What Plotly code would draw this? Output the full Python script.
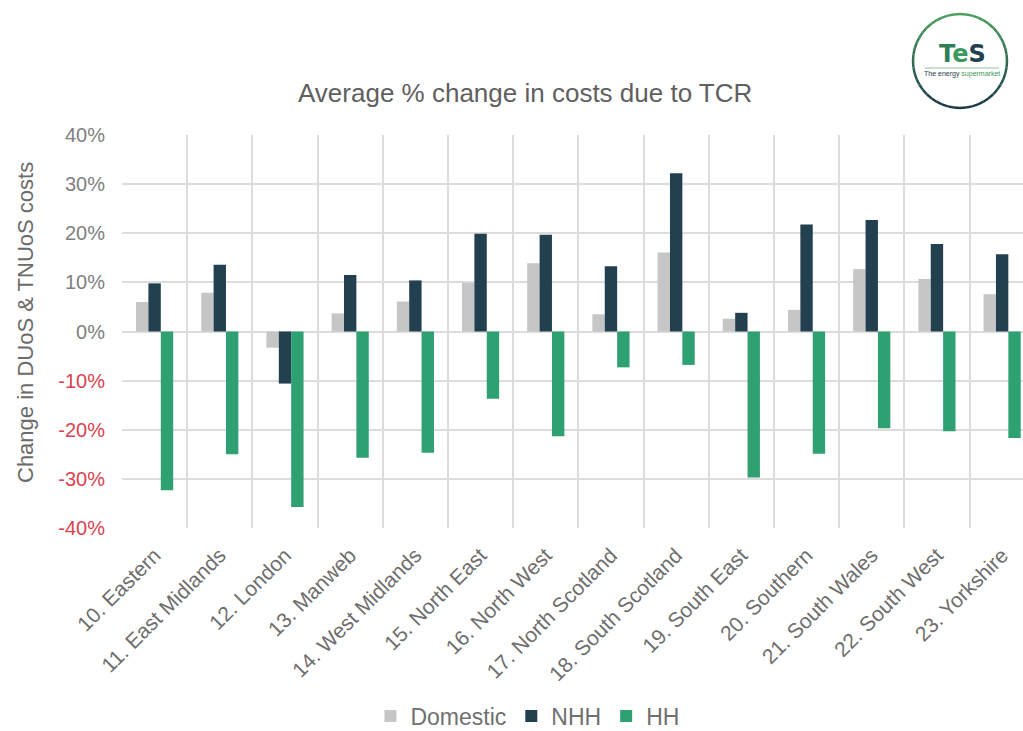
import math
import plotly.graph_objects as go

# Regions (DNO areas) and the average % change per customer class
regions = ["10. Eastern", "11. East Midlands", "12. London", "13. Manweb",
           "14. West Midlands", "15. North East", "16. North West",
           "17. North Scotland", "18. South Scotland", "19. South East",
           "20. Southern", "21. South Wales", "22. South West", "23. Yorkshire"]
domestic = [6.0, 7.9, -3.3, 3.7, 6.1, 9.9, 13.9, 3.5, 16.1, 2.6, 4.4, 12.7, 10.7, 7.6]
nhh = [9.8, 13.6, -10.6, 11.5, 10.4, 19.9, 19.7, 13.3, 32.2, 3.8, 21.8, 22.7, 17.8, 15.7]
hh = [-32.3, -25.0, -35.7, -25.7, -24.7, -13.7, -21.3, -7.3, -6.8, -29.7, -24.9, -19.7, -20.3, -21.7]

y_ticks = [-40, -30, -20, -10, 0, 10, 20, 30, 40]

FONT = "Liberation Sans, Arial, sans-serif"
GREY = "#808080"
RED = "#d9434f"

# plot-area geometry in pixels, used to place the annotations and badge
W, H = 1023, 731
L, R, T, B = 122, 0, 135, 203
PW, PH = W - L - R, H - T - B


def px(x):
    return (x - L) / PW


def py(y):
    return (H - B - y) / PH


fig = go.Figure()
fig.add_trace(go.Bar(name="Domestic", x=regions, y=domestic, marker_color="#c6c6c6"))
fig.add_trace(go.Bar(name="NHH", x=regions, y=nhh, marker_color="#22404f"))
fig.add_trace(go.Bar(name="HH", x=regions, y=hh, marker_color="#2fa072"))
fig.update_traces(marker_line_width=0)

tick_text = [
    f'<span style="color:{RED if v < 0 else GREY}">{v}%</span>' for v in y_ticks
]

fig.update_layout(
    width=W, height=H,
    margin=dict(l=L, r=R, t=T, b=B, autoexpand=False),
    paper_bgcolor="white", plot_bgcolor="white",
    barmode="group", bargap=0.43, bargroupgap=0,
    font=dict(family=FONT, color=GREY),
    showlegend=True,
    legend=dict(orientation="h", x=0.45, xanchor="center", y=py(716), yanchor="middle",
                font=dict(size=23, color="#707070"), itemwidth=30,
                traceorder="normal", itemclick=False),
    xaxis=dict(
        range=[-0.5, 13.32], tickson="boundaries", showgrid=True,
        gridcolor="#dcdcdc", gridwidth=1.5, ticks="", tickangle=-45,
        tickfont=dict(size=21, color="#6e6e6e"), ticklabelstandoff=10,
        showline=False, fixedrange=True,
    ),
    yaxis=dict(
        range=[-40, 40], tickvals=y_ticks, ticktext=tick_text,
        showgrid=True, gridcolor="#dcdcdc", gridwidth=1.5, zeroline=False,
        tickfont=dict(size=20), ticklabelstandoff=16, showline=False, fixedrange=True,
    ),
)

# chart title
fig.add_annotation(text="Average % change in costs due to TCR", xref="paper", yref="paper",
                   x=px(525), y=py(93), xanchor="center", yanchor="middle", showarrow=False,
                   font=dict(size=26, color="#606060", family=FONT))

# y-axis title
fig.add_annotation(text="Change in DUoS & TNUoS costs", xref="paper", yref="paper",
                   x=px(25), y=py(323), xanchor="center", yanchor="middle", showarrow=False,
                   textangle=-90, font=dict(size=22, color="#6b6b6b", family=FONT))

# ---- brand badge in the top-right corner ----
cx, cy, rad = 960, 61, 47
n = 48
c_top = (74, 160, 92)
c_bot = (28, 56, 72)
for i in range(n):
    a0 = 2 * math.pi * i / n
    a1 = 2 * math.pi * (i + 1) / n
    x0, y0 = cx + rad * math.sin(a0), cy - rad * math.cos(a0)
    x1, y1 = cx + rad * math.sin(a1), cy - rad * math.cos(a1)
    t = (1 - math.cos((a0 + a1) / 2)) / 2
    col = tuple(int(c_top[k] + (c_bot[k] - c_top[k]) * t) for k in range(3))
    fig.add_shape(type="line", xref="paper", yref="paper",
                  x0=px(x0), y0=py(y0), x1=px(x1), y1=py(y1),
                  line=dict(color=f"rgb{col}", width=2.5))

fig.add_annotation(
    text='<b><span style="color:#2f7f58">T</span><span style="color:#3a9a5b">e</span>'
         '<span style="color:#22404f">S</span></b>',
    xref="paper", yref="paper", x=px(962), y=py(54), xanchor="center", yanchor="middle",
    showarrow=False, font=dict(size=24, family="DejaVu Sans, sans-serif"))
fig.add_shape(type="line", xref="paper", yref="paper", x0=px(925), x1=px(999),
              y0=py(68), y1=py(68), line=dict(color="#8cc49c", width=1))
fig.add_annotation(
    text='<span style="color:#1d3b4a">The energy </span><span style="color:#3a9a5b">supermarket</span>',
    xref="paper", yref="paper", x=px(962), y=py(74), xanchor="center", yanchor="middle",
    showarrow=False, font=dict(size=7, family=FONT))

fig.write_html("out.html", config={"displayModeBar": False})
